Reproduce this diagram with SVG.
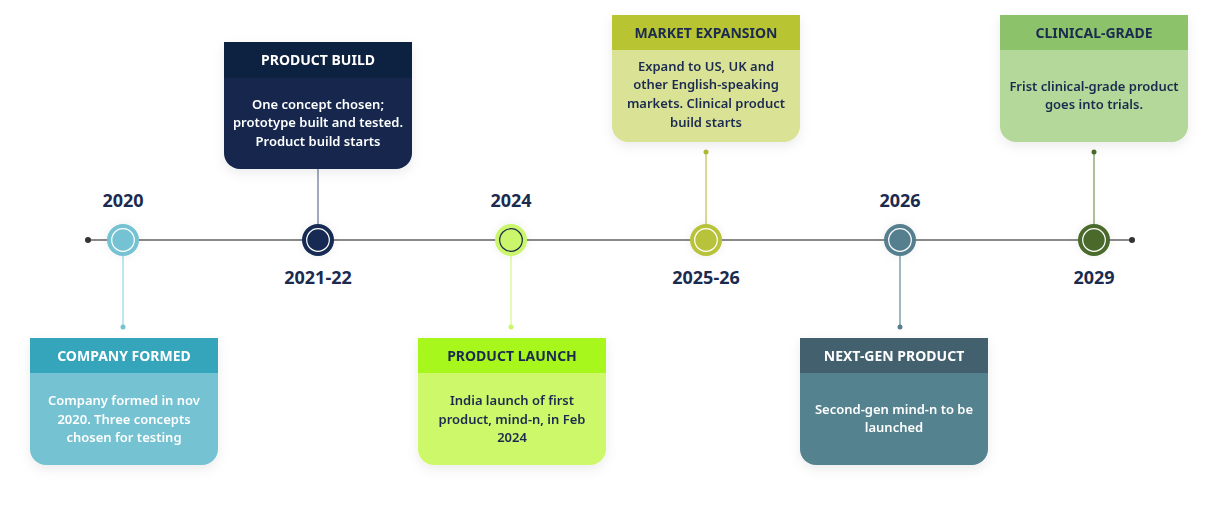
<svg xmlns="http://www.w3.org/2000/svg" width="1218" height="505" viewBox="0 0 1218 505">
<defs>
<filter id="sh" x="-20%" y="-20%" width="140%" height="150%">
<feDropShadow dx="0" dy="4" stdDeviation="6" flood-color="#000" flood-opacity="0.08"/>
</filter>
<filter id="glow" x="-100%" y="-100%" width="300%" height="300%">
<feDropShadow dx="0" dy="0" stdDeviation="5" flood-color="#000" flood-opacity="0.07"/>
</filter>
</defs>
<style>
.yr{font-family:"Noto Sans","Liberation Sans",sans-serif;font-weight:700;font-size:18px;fill:#1b2b4f;text-anchor:middle}
.hd{font-family:"Noto Sans","Liberation Sans",sans-serif;font-weight:700;font-size:14px;text-anchor:middle}
.bd{font-family:"Noto Sans","Liberation Sans",sans-serif;font-weight:600;font-size:13px;text-anchor:middle}
.w{fill:#ffffff}
.n{fill:#1b2b4f}
.ring{fill:none;stroke:#ffffff;stroke-width:1.2}
.cl{stroke-width:1.5}
</style>
<rect width="1218" height="505" fill="#ffffff"/>
<g id="connectors">
<line x1="88" y1="240" x2="1132" y2="240" stroke="#8a8a8a" stroke-width="2"/>
<circle cx="88" cy="240" r="3" fill="#333333"/>
<circle cx="1132" cy="240" r="3" fill="#333333"/>
<line class="cl" x1="123" y1="256" x2="123" y2="327" stroke="#a8dce6"/>
<circle cx="123" cy="327" r="2.5" fill="#74c2d2"/>
<line class="cl" x1="318" y1="169" x2="318" y2="224" stroke="#8190a8"/>
<line class="cl" x1="511" y1="256" x2="511" y2="327" stroke="#dcfa9f"/>
<circle cx="511" cy="327" r="2.5" fill="#c9f66b"/>
<line class="cl" x1="706" y1="152" x2="706" y2="224" stroke="#c8ce72"/>
<circle cx="706" cy="152" r="2.5" fill="#b0ba38"/>
<line class="cl" x1="900" y1="256" x2="900" y2="327" stroke="#7fa0aa"/>
<circle cx="900" cy="327" r="2.5" fill="#557f8f"/>
<line class="cl" x1="1094" y1="152" x2="1094" y2="224" stroke="#8fab76"/>
<circle cx="1094" cy="152" r="2.5" fill="#4a6a2b"/>
</g>
<g id="m2020">
<circle cx="123" cy="240" r="16" fill="#74c2d2" filter="url(#glow)"/>
<circle class="ring" cx="123" cy="240" r="11.3"/>
<text class="yr" x="123" y="207">2020</text>
</g>
<g id="m2021">
<circle cx="318" cy="240" r="16" fill="#132a52" filter="url(#glow)"/>
<circle class="ring" cx="318" cy="240" r="11.3"/>
<text class="yr" x="318" y="284">2021-22</text>
</g>
<g id="m2024">
<circle cx="511" cy="240" r="16" fill="#c9f66b" filter="url(#glow)"/>
<circle cx="511" cy="240" r="11.3" fill="none" stroke="#1b2b4f" stroke-width="1.2"/>
<text class="yr" x="511" y="207">2024</text>
</g>
<g id="m2025">
<circle cx="706" cy="240" r="16" fill="#b9c23a" filter="url(#glow)"/>
<circle class="ring" cx="706" cy="240" r="11.3"/>
<text class="yr" x="706" y="284">2025-26</text>
</g>
<g id="m2026">
<circle cx="900" cy="240" r="16" fill="#557f8f" filter="url(#glow)"/>
<circle class="ring" cx="900" cy="240" r="11.3"/>
<text class="yr" x="900" y="207">2026</text>
</g>
<g id="m2029">
<circle cx="1094" cy="240" r="16" fill="#4a6a2b" filter="url(#glow)"/>
<circle class="ring" cx="1094" cy="240" r="11.3"/>
<text class="yr" x="1094" y="284">2029</text>
</g>
<g id="card-company" filter="url(#sh)">
<path d="M30 338H218V449a16 16 0 0 1-16 16H46a16 16 0 0 1-16-16Z" fill="#74c2d2"/>
<rect x="30" y="338" width="188" height="35" fill="#36a5bc"/>
<text class="hd w" x="124" y="360.5">COMPANY FORMED</text>
<text class="bd w" x="124" y="405">Company formed in nov</text>
<text class="bd w" x="124" y="423.5">2020. Three concepts</text>
<text class="bd w" x="124" y="442">chosen for testing</text>
</g>
<g id="card-build" filter="url(#sh)">
<path d="M224 42H412V153a16 16 0 0 1-16 16H240a16 16 0 0 1-16-16Z" fill="#14284e"/>
<rect x="224" y="42" width="188" height="36" fill="#11213f"/>
<text class="hd w" x="318" y="65">PRODUCT BUILD</text>
<text class="bd w" x="318" y="108.5">One concept chosen;</text>
<text class="bd w" x="318" y="127">prototype built and tested.</text>
<text class="bd w" x="318" y="145.5">Product build starts</text>
</g>
<g id="card-launch" filter="url(#sh)">
<path d="M418 338H606V449a16 16 0 0 1-16 16H434a16 16 0 0 1-16-16Z" fill="#ccf86a"/>
<rect x="418" y="338" width="188" height="35" fill="#a8f71a"/>
<text class="hd n" x="512" y="360.5">PRODUCT LAUNCH</text>
<text class="bd n" x="512" y="405">India launch of first</text>
<text class="bd n" x="512" y="423.5">product, mind-n, in Feb</text>
<text class="bd n" x="512" y="442">2024</text>
</g>
<g id="card-market" filter="url(#sh)">
<path d="M612 15H800V126a16 16 0 0 1-16 16H628a16 16 0 0 1-16-16Z" fill="#dae296"/>
<rect x="612" y="15" width="188" height="35" fill="#b8c431"/>
<text class="hd n" x="706" y="37.5">MARKET EXPANSION</text>
<text class="bd n" x="706" y="70.5">Expand to US, UK and</text>
<text class="bd n" x="706" y="89">other English-speaking</text>
<text class="bd n" x="706" y="108">markets. Clinical product</text>
<text class="bd n" x="706" y="126.5">build starts</text>
</g>
<g id="card-nextgen" filter="url(#sh)">
<path d="M800 338H988V449a16 16 0 0 1-16 16H816a16 16 0 0 1-16-16Z" fill="#55828f"/>
<rect x="800" y="338" width="188" height="35" fill="#43616d"/>
<text class="hd w" x="894" y="360.5">NEXT-GEN PRODUCT</text>
<text class="bd w" x="894" y="413.5">Second-gen mind-n to be</text>
<text class="bd w" x="894" y="432">launched</text>
</g>
<g id="card-clinical" filter="url(#sh)">
<path d="M1000 15H1188V126a16 16 0 0 1-16 16H1016a16 16 0 0 1-16-16Z" fill="#b3d899"/>
<rect x="1000" y="15" width="188" height="35" fill="#8cc26b"/>
<text class="hd n" x="1094" y="37.5">CLINICAL-GRADE</text>
<text class="bd n" x="1094" y="90.5">Frist clinical-grade product</text>
<text class="bd n" x="1094" y="109">goes into trials.</text>
</g>
</svg>
